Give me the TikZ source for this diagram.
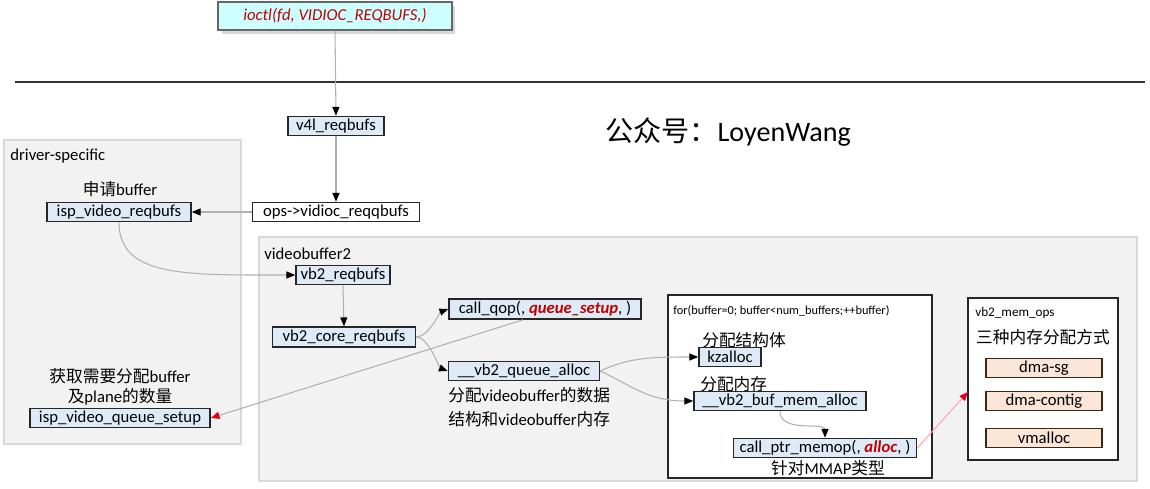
\documentclass[tikz,border=0pt]{standalone}
\usepackage{fontspec}
\setmainfont{Carlito}
\newfontfamily\cjk{Noto Sans CJK SC}
\usetikzlibrary{arrows.meta,shadows}
\definecolor{boxbg}{HTML}{DEEBF7}
\definecolor{boxrule}{HTML}{262626}
\definecolor{peach}{HTML}{FBE5D6}
\definecolor{cyanbg}{HTML}{CCFFFF}
\definecolor{regionbg}{HTML}{F2F2F2}
\definecolor{regionrule}{HTML}{D9D9D9}
\definecolor{linkgray}{HTML}{B0B0B0}
\definecolor{tipred}{HTML}{E0001B}
\definecolor{txtred}{HTML}{C00000}

\begin{document}
\begin{tikzpicture}[x=0.02cm,y=-0.02cm,
      fbox/.style={draw=boxrule,fill=boxbg,line width=0.9pt,minimum height=0.38cm,
                   inner sep=1pt,font=\fontsize{9.5}{11}\selectfont},
      wbox/.style={fbox,fill=white},
      obox/.style={fbox,fill=peach,draw=black!70!brown,line width=0.7pt},
      region/.style={draw=regionrule,fill=regionbg,line width=0.6pt},
      frame/.style={draw=boxrule,fill=white,line width=0.9pt},
      txt/.style={inner sep=0pt,font=\fontsize{9.5}{11}\selectfont},
      small/.style={inner sep=0pt,font=\fontsize{7}{9}\selectfont},
      link/.style={draw=linkgray,line width=0.6pt,-{Triangle[length=5pt,width=4pt,color=black]}},
      redlink/.style={draw=linkgray,line width=0.6pt,-{Triangle[length=5pt,width=4pt,color=tipred]}}]
    \useasboundingbox (0,0) rectangle (1150,488);
    \fill[white] (0,0) rectangle (1150,488);
    % regions
    \draw[region] (4,140) rectangle (241,444);
    \draw[region] (259,237) rectangle (1137,481);
    \draw[frame] (668,295) rectangle (932,478);
    \draw[frame] (968,298) rectangle (1118,460);
    \draw[line width=0.9pt,black!80] (15,82) -- (1145,82);
    % labels
    \node[txt,font=\fontsize{16}{18}\selectfont] (title) at (728,132) {{\cjk 公众号：}LoyenWang};
    \node[txt,anchor=west] (drvlbl) at (10,156) {driver-specific};
    \node[txt,anchor=west] (vb2lbl) at (264,254) {videobuffer2};
    \node[txt] (reqlbl) at (120,189) {{\cjk 申请}buffer};
    \node[txt,align=center,font=\fontsize{9.5}{11.3}\selectfont] (setuplbl) at (120,387)
      {{\cjk 获取需要分配}buffer\\{\cjk 及}plane{\cjk 的数量}};
    \node[txt,align=left,anchor=north west,font=\fontsize{9.5}{13.5}\selectfont] (alloclbl) at (448,387)
      {{\cjk 分配}videobuffer{\cjk 的数据}\\{\cjk 结构和}videobuffer{\cjk 内存}};
    \node[small,anchor=west] (forlbl) at (673,311) {for(buffer=0; buffer<num\_buffers;++buffer)};
    \node[txt,anchor=west] (kzlbl) at (702,340) {\cjk 分配结构体};
    \node[txt,anchor=west] (memlbl) at (700,384) {\cjk 分配内存};
    \node[txt] (mmaplbl) at (828,468) {{\cjk 针对}MMAP{\cjk 类型}};
    \node[small,anchor=west,font=\fontsize{7.5}{9}\selectfont] (opslbl) at (975,313) {vb2\_mem\_ops};
    \node[txt] (waylbl) at (1043,337) {\cjk 三种内存分配方式};
    % boxes
    \node[fbox,fill=cyanbg,draw=black!60,line width=0.6pt,minimum width=4.68cm,minimum height=0.56cm,
          font=\fontsize{9.5}{11}\selectfont\itshape,text=txtred,
          drop shadow={shadow xshift=2pt,shadow yshift=-2pt,fill=black!30}] (ioctl) at (335,16)
      {ioctl(fd, VIDIOC\_REQBUFS,)};
    \node[fbox,minimum width=1.92cm] (v4l) at (336,126) {v4l\_reqbufs};
    \node[wbox,minimum width=3.34cm] (vops) at (336,212) {ops->vidioc\_reqqbufs};
    \node[fbox,minimum width=2.88cm] (ispreq) at (119,212) {isp\_video\_reqbufs};
    \node[fbox,minimum width=3.6cm] (ispsetup) at (120,418) {isp\_video\_queue\_setup};
    \node[fbox,minimum width=1.88cm] (vbreq) at (343,275) {vb2\_reqbufs};
    \node[fbox,minimum width=2.86cm,minimum height=0.4cm] (vbcore) at (344,337) {vb2\_core\_reqbufs};
    \node[fbox,minimum width=3.84cm,minimum height=0.4cm] (qop) at (545,309)
      {call\_qop(, \textcolor{txtred}{\textbf{\textit{queue\_setup}}}, )};
    \node[fbox,minimum width=3.02cm] (qalloc) at (524,371) {\_\_vb2\_queue\_alloc};
    \node[fbox,minimum width=1.24cm] (kz) at (730,357) {kzalloc};
    \node[fbox,minimum width=3.44cm] (bufmem) at (780,401) {\_\_vb2\_buf\_mem\_alloc};
    \node[fbox,minimum width=3.66cm] (memop) at (825,448)
      {call\_ptr\_memop(, \textcolor{txtred}{\textbf{\textit{alloc}}}, )};
    \node[obox,minimum width=2.32cm] (dmasg) at (1044,368) {dma-sg};
    \node[obox,minimum width=2.32cm] (dmacontig) at (1044,401) {dma-contig};
    \node[obox,minimum width=2.32cm] (vmall) at (1044,438) {vmalloc};
    \coordinate (memin) at (968,392);
    % connectors
    \draw[link] (ioctl.south) -- (v4l.north);
    \draw[link] (v4l.south) -- (vops.north);
    \draw[link] (vops.west) -- (ispreq.east);
    \draw[link] (ispreq.south) .. controls +(0,55) and +(-110,0) .. (vbreq.west);
    \draw[link] (vbreq.south) -- (vbcore.north);
    \draw[link] (vbcore.east) .. controls +(12,0) and +(-8,3) .. (qop.west);
    \draw[link] (vbcore.east) .. controls +(12,0) and +(-8,-3) .. (qalloc.west);
    \draw[redlink] ([xshift=-0.44cm]qop.south) -- (ispsetup.east);
    \draw[link] (qalloc.east) .. controls +(30,-14) and +(-45,0) .. (kz.west);
    \draw[link] (qalloc.east) .. controls +(30,14) and +(-45,0) .. (bufmem.west);
    \draw[link] (bufmem.south) .. controls +(0,22) and +(0,-16) .. (memop.north);
    \draw[redlink,draw=red!35] (memop.east) -- (memin);
\end{tikzpicture}
\end{document}
